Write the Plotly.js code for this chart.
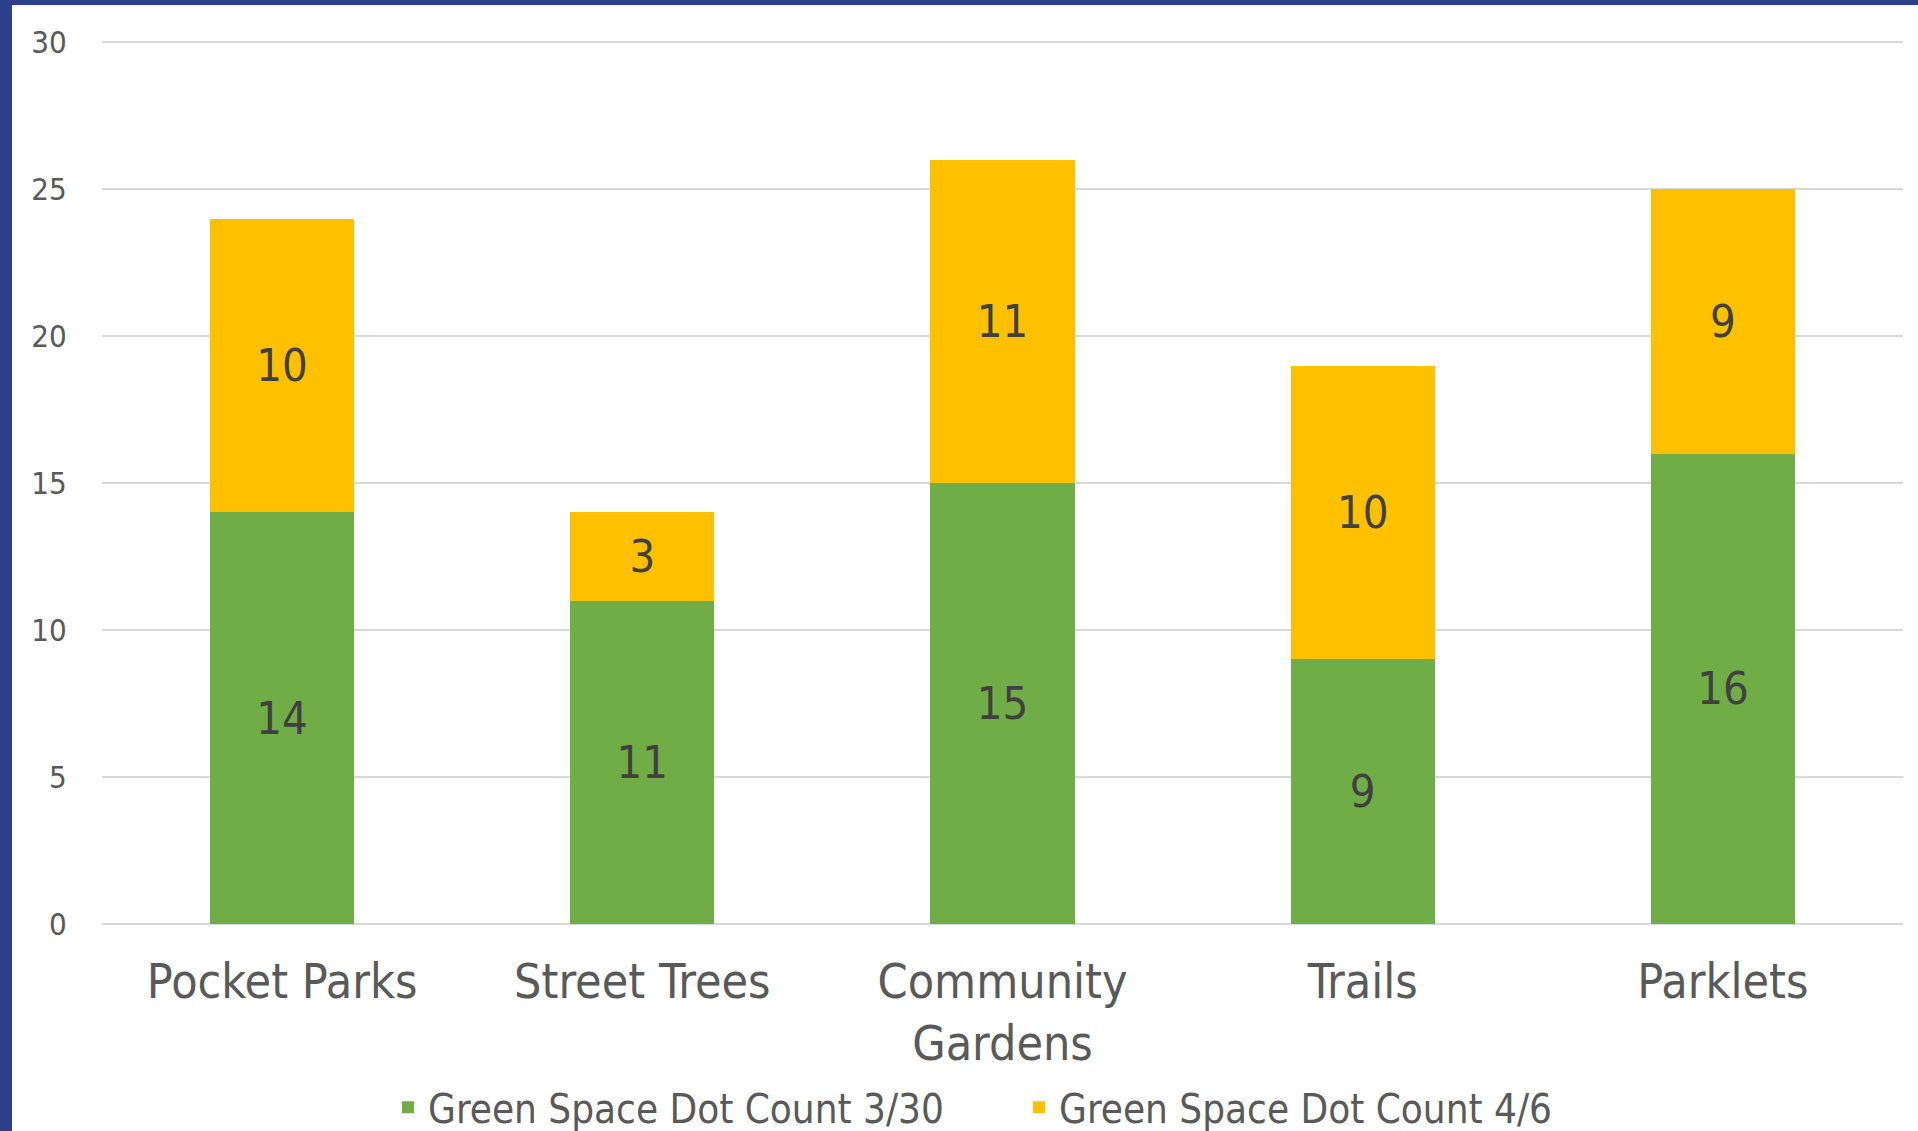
<!DOCTYPE html>
<html>
<head>
<meta charset="utf-8">
<script src="https://cdn.plot.ly/plotly-3.0.1.min.js"></script>
<style>
  html, body { margin: 0; padding: 0; background: #ffffff; overflow: hidden; }
  #chart { position: absolute; left: 0; top: 0; width: 1918px; height: 1131px; }
  #bl { position: absolute; left: 0; top: 0; width: 12px; height: 1131px; background: #2B3F8A; pointer-events: none; }
  #bt { position: absolute; left: 0; top: 0; width: 1918px; height: 5px; background: #2B3F8A; pointer-events: none; }
</style>
</head>
<body>
<div id="chart"></div>
<div id="bl"></div>
<div id="bt"></div>
<script>
const categories = ["Pocket Parks", "Street Trees", "Community<br>Gardens", "Trails", "Parklets"];
const seriesNames = ["Green Space Dot Count 3/30", "Green Space Dot Count 4/6"];
const countMar30 = [14, 11, 15, 9, 16];
const countApr6 = [10, 3, 11, 10, 9];
const yTicks = [0, 5, 10, 15, 20, 25, 30];

const FONT = "DejaVu Sans Condensed, DejaVu Sans, sans-serif";

const traces = [
  {
    type: "bar", name: seriesNames[0], x: categories, y: countMar30,
    marker: { color: "#70AD47" },
    text: countMar30.map(String), textposition: "inside", insidetextanchor: "middle",
    textfont: { family: FONT, size: 45, color: "#404040" }, constraintext: "none",
    hoverinfo: "x+y+name"
  },
  {
    type: "bar", name: seriesNames[1], x: categories, y: countApr6,
    marker: { color: "#FFC000" },
    text: countApr6.map(String), textposition: "inside", insidetextanchor: "middle",
    textfont: { family: FONT, size: 45, color: "#404040" }, constraintext: "none",
    hoverinfo: "x+y+name"
  }
];

const layout = {
  width: 1918, height: 1131,
  margin: { l: 102, r: 15, t: 41, b: 207, pad: 0 },
  paper_bgcolor: "#ffffff", plot_bgcolor: "#ffffff",
  barmode: "stack", bargap: 0.6,
  font: { family: FONT, color: "#595959" },
  xaxis: {
    type: "category",
    tickfont: { family: FONT, size: 48, color: "#595959" },
    showgrid: false, showline: false, zeroline: false,
    ticks: "outside", ticklen: 15, tickcolor: "rgba(0,0,0,0)"
  },
  yaxis: {
    range: [0, 30.04], tickvals: yTicks, ticktext: yTicks.map(String),
    tickfont: { family: FONT, size: 31, color: "#595959" },
    showgrid: true, gridcolor: "#D9D9D9", gridwidth: 2,
    zeroline: true, zerolinecolor: "#D9D9D9", zerolinewidth: 2,
    showline: false,
    ticks: "outside", ticklen: 28, tickcolor: "rgba(0,0,0,0)"
  },
  legend: {
    orientation: "h", xref: "container", yref: "container",
    x: 0.2023, xanchor: "left", y: 0.021, yanchor: "middle",
    entrywidth: 586, entrywidthmode: "pixels",
    font: { family: FONT, size: 40, color: "#595959" },
    traceorder: "normal", bgcolor: "rgba(0,0,0,0)"
  },
  showlegend: true
};

Plotly.newPlot("chart", traces, layout, { displayModeBar: false, staticPlot: true });
</script>
</body>
</html>
